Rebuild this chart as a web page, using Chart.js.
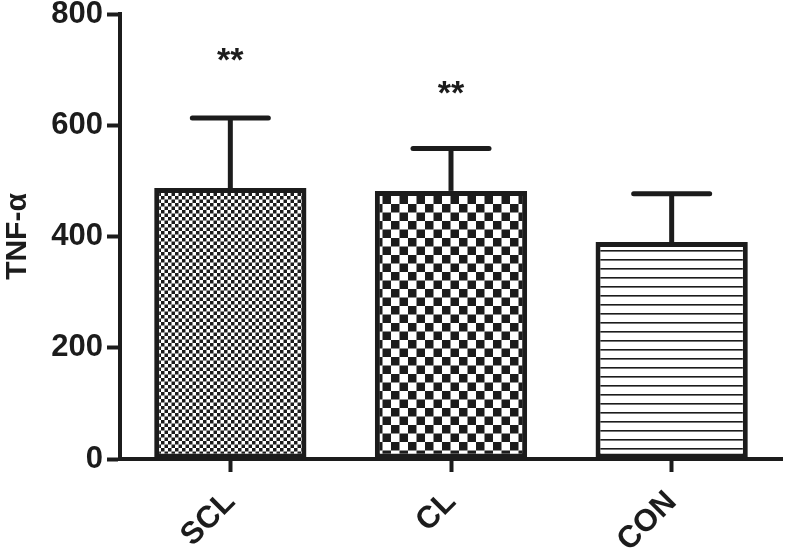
<!DOCTYPE html>
<html>
<head>
<meta charset="utf-8">
<script src="https://cdn.jsdelivr.net/npm/chart.js@4/dist/chart.umd.min.js"></script>
<style>
  html, body { margin: 0; padding: 0; background: #fff; }
  #wrap { width: 787px; height: 556px; }
</style>
</head>
<body>
<div id="wrap"><canvas id="barchart" width="787" height="556"></canvas></div>
<script>
const groups = ['SCL', 'CL', 'CON'];
const means = [487, 482, 390];
const sds = [126, 76, 87];
const stars = ['**', '**', ''];
const starLevels = [723, 664, 0];
const yTicks = [0, 200, 400, 600, 800];

const ink = '#1c1c1c';
const fontFam = '"Liberation Sans", Arial, sans-serif';

function makePattern(kind) {
    const c = document.createElement('canvas');
    const g = c.getContext('2d');
    if (kind === 'fine') {
        c.width = 7; c.height = 7;
        g.fillStyle = '#fff'; g.fillRect(0, 0, 7, 7);
        g.fillStyle = ink;
        g.fillRect(0, 0, 3.5, 3.5);
        g.fillRect(3.5, 3.5, 3.5, 3.5);
    } else if (kind === 'coarse') {
        c.width = 17; c.height = 17;
        g.fillStyle = '#fff'; g.fillRect(0, 0, 17, 17);
        g.fillStyle = ink;
        g.fillRect(0, 0, 8.5, 8.5);
        g.fillRect(8.5, 8.5, 8.5, 8.5);
    } else {
        c.width = 9; c.height = 9;
        g.fillStyle = '#fff'; g.fillRect(0, 0, 9, 9);
        g.fillStyle = ink;
        g.fillRect(0, 7, 9, 1.6);
    }
    return g.createPattern(c, 'repeat');
}

// error bars (upward only) and significance stars
const extras = {
    id: 'extras',
    afterDatasetsDraw(chart) {
        const ctx = chart.ctx;
        const y = chart.scales.y;
        const meta = chart.getDatasetMeta(0);
        ctx.save();
        ctx.strokeStyle = ink;
        ctx.lineWidth = 5;
        meta.data.forEach((bar, i) => {
            const x = bar.x;
            const top = y.getPixelForValue(means[i]);
            const hi = y.getPixelForValue(means[i] + sds[i]);
            ctx.lineCap = 'butt';
            ctx.beginPath();
            ctx.moveTo(x, top);
            ctx.lineTo(x, hi);
            ctx.stroke();
            ctx.lineCap = 'round';
            ctx.beginPath();
            ctx.moveTo(x - 38, hi);
            ctx.lineTo(x + 38, hi);
            ctx.stroke();
            if (stars[i]) {
                ctx.fillStyle = ink;
                ctx.font = 'bold 34px ' + fontFam;
                ctx.textAlign = 'center';
                ctx.textBaseline = 'middle';
                ctx.fillText(stars[i], x, y.getPixelForValue(starLevels[i]) + 5);
            }
        });
        ctx.restore();
    }
};

const ctx = document.getElementById('barchart').getContext('2d');
const barchart = new Chart(ctx, {
    type: 'bar',
    data: {
        labels: groups,
        datasets: [{
            data: means,
            backgroundColor: [makePattern('fine'), makePattern('coarse'), makePattern('lines')],
            borderColor: ink,
            borderWidth: 5,
            borderSkipped: false,
            barPercentage: 0.69,
            categoryPercentage: 1
        }]
    },
    options: {
        responsive: false,
        animation: false,
        layout: { padding: { top: 14, right: 5, left: 0, bottom: 0 } },
        plugins: {
            legend: { display: false },
            tooltip: { enabled: false }
        },
        scales: {
            x: {
                grid: {
                    drawOnChartArea: false,
                    drawTicks: true,
                    tickLength: 13,
                    tickWidth: 4,
                    tickColor: ink,
                    offset: false
                },
                border: { display: true, color: ink, width: 4 },
                ticks: {
                    color: ink,
                    font: { family: fontFam, size: 31, weight: 'bold' },
                    minRotation: 45,
                    maxRotation: 45,
                    padding: 12
                },
                afterFit(scale) { scale.height = 97; }
            },
            y: {
                min: 0,
                max: 800,
                afterBuildTicks(scale) { scale.ticks = yTicks.map(v => ({ value: v })); },
                grid: {
                    drawOnChartArea: false,
                    drawTicks: true,
                    tickLength: 13,
                    tickWidth: 4,
                    tickColor: ink
                },
                border: { display: true, color: ink, width: 4 },
                ticks: {
                    color: ink,
                    font: { family: fontFam, size: 31, weight: 'bold' },
                    padding: 4
                },
                title: {
                    display: true,
                    text: 'TNF-α',
                    color: ink,
                    font: { family: fontFam, size: 30, weight: 'bold' },
                    padding: 0
                },
                afterFit(scale) {
                    scale.width = 120;
                    scale.paddingTop = 0;
                    scale.paddingBottom = 0;
                }
            }
        }
    },
    plugins: [extras]
});
</script>
</body>
</html>
